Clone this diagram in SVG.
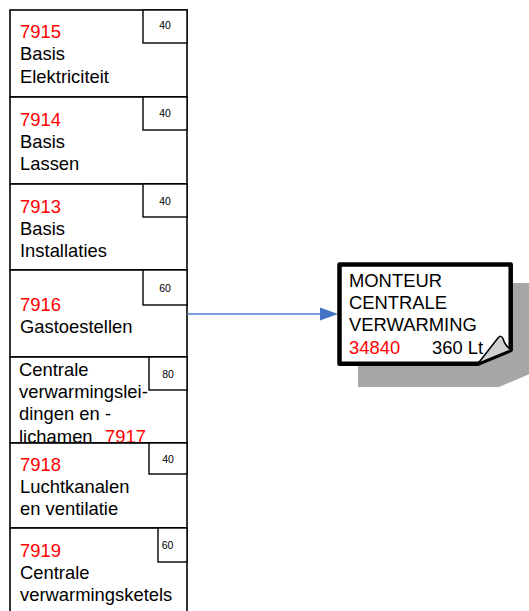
<svg xmlns="http://www.w3.org/2000/svg" width="529" height="611" viewBox="0 0 529 611">
<style>
.box{fill:#fff;stroke:#000;stroke-width:1.6}
.sm{fill:#fff;stroke:#000;stroke-width:1.4}
.t{font-family:"Liberation Sans",Arial,sans-serif;font-size:18.4px;fill:#000}
.r{fill:#ff0000}
.n{font-family:"Liberation Sans",Arial,sans-serif;font-size:10.5px;fill:#000;text-anchor:middle}
.conn{stroke:#4f7fd0;stroke-width:1.4;fill:none}
</style>
<defs>
<clipPath id="c5"><rect x="10" y="357" width="177" height="86"/></clipPath>
</defs>
<rect x="0" y="0" width="529" height="611" fill="#fff"/>
<g id="n7915">
<rect class="box" x="10" y="10" width="177" height="87"/>
<rect class="sm" x="143" y="10" width="44" height="33"/>
<text class="n" x="165" y="29.3">40</text>
<text class="t" x="20" y="37.5"><tspan class="r">7915</tspan><tspan x="20" y="60">Basis</tspan><tspan x="20" y="82.5">Elektriciteit</tspan></text>
</g>
<g id="n7914">
<rect class="box" x="10" y="97" width="177" height="87"/>
<rect class="sm" x="143" y="97" width="44" height="33"/>
<text class="n" x="165" y="116.7">40</text>
<text class="t" x="20" y="125.5"><tspan class="r">7914</tspan><tspan x="20" y="147.5">Basis</tspan><tspan x="20" y="169.5">Lassen</tspan></text>
</g>
<g id="n7913">
<rect class="box" x="10" y="184" width="177" height="86"/>
<rect class="sm" x="143" y="184" width="44" height="33"/>
<text class="n" x="165" y="205">40</text>
<text class="t" x="20" y="213"><tspan class="r">7913</tspan><tspan x="20" y="235">Basis</tspan><tspan x="20" y="256.7">Installaties</tspan></text>
</g>
<g id="n7916">
<rect class="box" x="10" y="270" width="177" height="87"/>
<rect class="sm" x="143" y="270" width="44" height="35"/>
<text class="n" x="165" y="292.3">60</text>
<text class="t" x="20" y="311"><tspan class="r">7916</tspan><tspan x="20" y="333">Gastoestellen</tspan></text>
</g>
<g id="n7917">
<rect class="box" x="10" y="357" width="177" height="86"/>
<rect class="sm" x="149" y="357" width="38" height="33"/>
<text class="n" x="168" y="377.7">80</text>
<text class="t" x="19" y="375.7" clip-path="url(#c5)">Centrale<tspan x="19" y="397.7">verwarmingslei-</tspan><tspan x="19" y="420">dingen en -</tspan><tspan x="19" y="443">lichamen</tspan><tspan class="r" x="105" y="443">7917</tspan></text>
<line x1="10" y1="443" x2="187" y2="443" stroke="#000" stroke-width="1.6"/>
</g>
<g id="n7918">
<rect class="box" x="10" y="443" width="177" height="85"/>
<rect class="sm" x="149" y="443" width="38" height="31"/>
<text class="n" x="168" y="463.3">40</text>
<text class="t" x="20" y="470.7"><tspan class="r">7918</tspan><tspan x="20" y="492.7">Luchtkanalen</tspan><tspan x="20" y="515">en ventilatie</tspan></text>
</g>
<g id="n7919">
<rect class="box" x="10" y="528" width="177" height="90"/>
<rect class="sm" x="158" y="528" width="29" height="34"/>
<text class="n" x="167.5" y="548.7">60</text>
<text class="t" x="20" y="556.7"><tspan class="r">7919</tspan><tspan x="20" y="579">Centrale</tspan><tspan x="20" y="601">verwarmingsketels</tspan></text>
</g>
<g id="connectors">
<path class="conn" d="M187,314 H321"/>
<polygon points="338,314 320,307.5 320,320.5" fill="#4472c4"/>
</g>
<g id="n34840">
<path d="M358,283 H534 V372 L499,387 H358 Z" fill="#a6a6a6"/>
<path d="M339.5,264.5 H510.7 V350 L478,363.8 H339.5 Z" fill="#fff" stroke="#000" stroke-width="4.5" stroke-linejoin="round"/>
<path d="M478,363.5 L498,338 Q501,334.5 503,338.5 Q504.5,345 511,350 Z" fill="#d0d0d0" stroke="#000" stroke-width="1.5" stroke-linejoin="round"/>
<text class="t" x="349" y="287">MONTEUR<tspan x="349" y="309">CENTRALE</tspan><tspan x="349" y="331">VERWARMING</tspan><tspan class="r" x="349" y="354">34840</tspan><tspan x="432" y="354">360 Lt</tspan></text>
</g>
</svg>
